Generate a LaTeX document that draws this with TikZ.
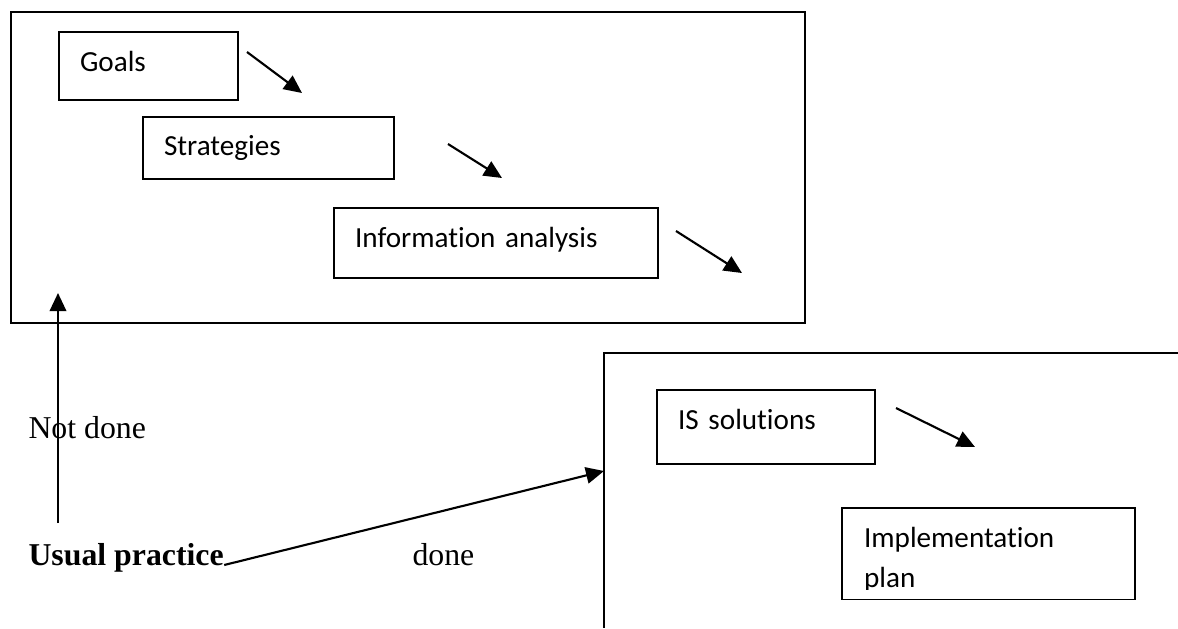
\documentclass[tikz,border=0pt]{standalone}
\usepackage{fontspec}
\setmainfont{Liberation Serif}
\newfontfamily\boxfont[Ligatures=NoCommon]{Carlito}
\usetikzlibrary{arrows.meta, positioning}

\begin{document}
\begin{tikzpicture}[x=0.3774pt, y=-0.3774pt,
                every node/.style={inner sep=0pt, font=\fontsize{12}{14}\selectfont},
                frame/.style={draw, line width=0.65pt, anchor=north west},
                box/.style={draw, line width=0.65pt, anchor=north west, align=left, inner xsep=8pt, inner ysep=0pt,
                    font=\boxfont\fontsize{11}{15.1}\selectfont},
                arr/.style={line width=0.8pt, -{Triangle[length=6.8pt, width=6.2pt]}},
                lbl/.style={anchor=base west}]

    \useasboundingbox (0,0) rectangle (1178,628); % page size in px of the scan

    % planning frame
    \node [frame, minimum width=299.7pt, minimum height=117.4pt] (plan) at (10,11) {};
    \node [box, text width=51.5pt,  text height=15.1pt, text depth=10.6pt] (goals) at (58,31)  {Goals};
    \node [box, text width=78.7pt,  text height=14.7pt, text depth=8.7pt]  (strat) at (142,116) {Strategies};
    \node [box, text width=106.3pt, text height=15.1pt, text depth=11.3pt] (info)  at (333,207) {Information analysis};

    \coordinate (g0) at (247,52);  \coordinate (g1) at (302,93);
    \coordinate (s0) at (448,144); \coordinate (s1) at (502,178);
    \coordinate (i0) at (676,231); \coordinate (i1) at (742,273);
    \draw [arr] (g0) -- (g1);
    \draw [arr] (s0) -- (s1);
    \draw [arr] (i0) -- (i1);

    % solutions frame, runs off the page
    \draw [line width=0.65pt] (1178,353) coordinate (sol-ne) -- (604,353) coordinate (sol-nw) -- (604,628);
    \coordinate (entry) at (604,471);
    \node [box, text width=66.3pt, text height=15.1pt, text depth=12.8pt] (is) at (656,389) {IS solutions};
    \begin{scope}
        \clip (830,500) rectangle (1145,589); % second line is cut off at its baseline
        \node [box, draw=none, text width=93.8pt, text height=14.7pt, text depth=19.2pt] (impl) at (842,508) {Implementation\\plan};
    \end{scope}
    \draw [line width=0.65pt] (impl.south west) rectangle (impl.north east);

    \coordinate (is0) at (896,408); \coordinate (is1) at (975,447);
    \draw [arr] (is0) -- (is1);

    % usual practice
    \node [lbl] (notdone) at (28,438) {Not done};
    \node [lbl, font=\fontsize{12}{14}\selectfont\bfseries] (usual) at (28,565) {Usual practice};
    \node [lbl] (done) at (412,565) {done};

    \coordinate (up0) at (58,523); \coordinate (up1) at (58,293);
    \draw [arr] (up0) -- (up1);
    \draw [arr] (usual.base east) -- (entry);

\end{tikzpicture}
\end{document}
